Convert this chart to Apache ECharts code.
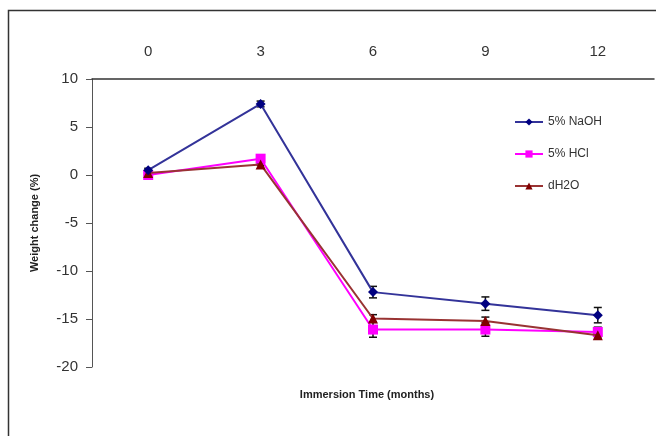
<!DOCTYPE html>
<html>
<head>
<meta charset="utf-8">
<script src="https://cdn.jsdelivr.net/npm/echarts@6/dist/echarts.min.js"></script>
<style>
  html, body { margin: 0; padding: 0; background: #fff; }
  #chart { width: 656px; height: 436px; }
</style>
</head>
<body>
<div id="chart"></div>
<script>
var months = ['0', '3', '6', '9', '12']
var naoh = [0.5, 7.4, -12.2, -13.4, -14.6]
var hcl = [0.0, 1.7, -16.1, -16.1, -16.35]
var dh2o = [0.2, 1.1, -14.95, -15.2, -16.7]
var naohErr = [0.2, 0.3, 0.6, 0.7, 0.8]
var hclErr = [0.1, 0.2, 0.8, 0.7, 0.5]
var dh2oErr = [0.1, 0.1, 0.4, 0.4, 0.4]

function errData(vals, errs) {
  return vals.map(function (v, i) { return [i, v - errs[i], v + errs[i]] })
}

function errSeries(vals, errs) {
  return {
    type: 'custom',
    z: 1,
    silent: true,
    data: errData(vals, errs),
    renderItem: function (params, api) {
      var lo = api.coord([api.value(0), api.value(1)])
      var hi = api.coord([api.value(0), api.value(2)])
      var w = 4
      var style = { stroke: '#111', lineWidth: 1.5 }
      return {
        type: 'group',
        children: [
          { type: 'line', shape: { x1: lo[0], y1: lo[1], x2: hi[0], y2: hi[1] }, style: style },
          { type: 'line', shape: { x1: lo[0] - w, y1: lo[1], x2: lo[0] + w, y2: lo[1] }, style: style },
          { type: 'line', shape: { x1: hi[0] - w, y1: hi[1], x2: hi[0] + w, y2: hi[1] }, style: style }
        ]
      }
    }
  }
}

var chart = echarts.init(document.getElementById('chart'))
chart.setOption({
  backgroundColor: '#fff',
  animation: false,
  textStyle: { fontFamily: 'Liberation Sans, Arial, sans-serif' },
  graphic: [
    {
      type: 'rect',
      shape: { x: 8.5, y: 10.5, width: 720, height: 500 },
      style: { fill: 'none', stroke: '#333', lineWidth: 1.5 },
      silent: true
    },
    {
      type: 'text',
      x: 367,
      y: 389,
      style: {
        text: 'Immersion Time (months)',
        fill: '#222',
        font: 'bold 11px Liberation Sans, Arial, sans-serif',
        textAlign: 'center'
      }
    }
  ],
  legend: {
    orient: 'vertical',
    left: 509,
    top: 111,
    itemGap: 20,
    itemWidth: 28,
    itemHeight: 9,
    textStyle: { fontSize: 12, color: '#333' },
    data: ['5% NaOH', '5% HCl', 'dH2O']
  },
  grid: {
    top: 79,
    left: 92,
    right: 2,
    bottom: 69
  },
  xAxis: {
    type: 'category',
    position: 'top',
    boundaryGap: true,
    data: months,
    axisLine: { onZero: false, lineStyle: { color: '#333', width: 1.5 } },
    axisTick: { show: false },
    axisLabel: { fontSize: 15, color: '#333', margin: 20 },
    splitLine: { show: false }
  },
  yAxis: {
    type: 'value',
    min: -20,
    max: 10,
    interval: 5,
    name: 'Weight change (%)',
    nameLocation: 'middle',
    nameGap: 52,
    nameTextStyle: { fontSize: 11, fontWeight: 'bold', color: '#222' },
    axisLine: { show: true, lineStyle: { color: '#555', width: 1 } },
    axisTick: { show: true, inside: false, length: 6, lineStyle: { color: '#555' } },
    axisLabel: { fontSize: 15, color: '#333', margin: 14 },
    splitLine: { show: false }
  },
  series: [
    errSeries(naoh, naohErr),
    errSeries(hcl, hclErr),
    errSeries(dh2o, dh2oErr),
    {
      name: '5% HCl',
      type: 'line',
      z: 2,
      data: hcl,
      symbol: 'rect',
      symbolSize: 10,
      lineStyle: { color: '#ff00ff', width: 2 },
      itemStyle: { color: '#ff00ff' }
    },
    {
      name: 'dH2O',
      type: 'line',
      z: 3,
      data: dh2o,
      symbol: 'triangle',
      symbolSize: 10,
      lineStyle: { color: '#993333', width: 2 },
      itemStyle: { color: '#800000' }
    },
    {
      name: '5% NaOH',
      type: 'line',
      z: 4,
      data: naoh,
      symbol: 'diamond',
      symbolSize: 10,
      lineStyle: { color: '#333399', width: 2 },
      itemStyle: { color: '#000080' }
    }
  ]
})
</script>
</body>
</html>
